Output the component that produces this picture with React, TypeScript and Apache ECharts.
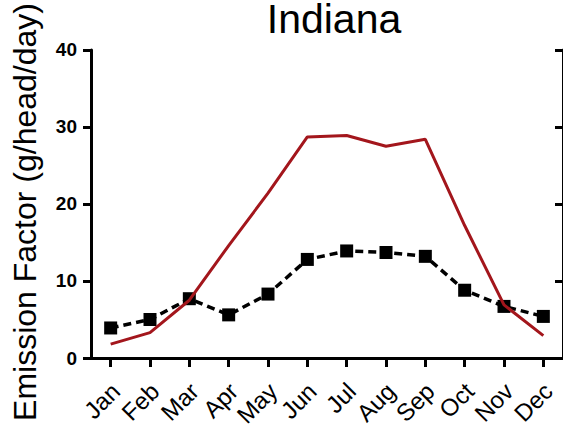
import React, { useEffect, useRef } from "react";
import * as echarts from "echarts";

const months = ["Jan", "Feb", "Mar", "Apr", "May", "Jun", "Jul", "Aug", "Sep", "Oct", "Nov", "Dec"];
const redSeries = [1.8, 3.3, 7.5, 14.6, 21.4, 28.7, 28.9, 27.5, 28.4, 17.2, 6.9, 2.9];
const blackSeries = [3.9, 5.0, 7.7, 5.6, 8.3, 12.8, 13.9, 13.7, 13.2, 8.8, 6.7, 5.4];
const yTicks = { min: 0, max: 40, interval: 10 };

const FONT = "'Liberation Sans', Arial, sans-serif";

export default function App() {
  const ref = useRef<HTMLDivElement>(null);
  useEffect(() => {
    if (!ref.current) return;
    const chart = echarts.init(ref.current, null, { renderer: "svg" });
    const axisLine = { show: true, lineStyle: { color: "#000", width: 3 } };
    chart.setOption({
      animation: false,
      backgroundColor: "#fff",
      title: {
        text: "Indiana",
        left: 329,
        textAlign: "center",
        top: -7,
        textStyle: { fontFamily: FONT, fontSize: 41, fontWeight: "normal", color: "#000" },
      },
      grid: { left: 91, right: -2, top: 42, bottom: 78, containLabel: false },
      xAxis: [
        {
          type: "category",
          data: months,
          position: "bottom",
          boundaryGap: true,
          axisLine,
          axisTick: { show: true, alignWithLabel: true, length: 8, lineStyle: { color: "#000", width: 3 } },
          axisLabel: {
            rotate: 45,
            margin: 34,
            interval: 0,
            fontFamily: FONT,
            fontSize: 24,
            color: "#000",
            padding: [0, -7, 0, 0],
          },
          splitLine: { show: false },
        },
        {
          type: "category",
          data: months,
          position: "top",
          boundaryGap: true,
          axisLine,
          axisTick: { show: true, inside: true, alignWithLabel: true, length: 9, lineStyle: { color: "#000", width: 3 } },
          axisLabel: { show: false },
          splitLine: { show: false },
        },
      ],
      yAxis: [
        {
          type: "value",
          min: yTicks.min,
          max: yTicks.max,
          interval: yTicks.interval,
          position: "left",
          axisLine,
          axisTick: { show: true, length: 8, lineStyle: { color: "#000", width: 3 } },
          axisLabel: { margin: 14, fontFamily: FONT, fontSize: 19, fontWeight: "bold", color: "#000" },
          splitLine: { show: false },
          name: "Emission Factor (g/head/day)",
          nameLocation: "middle",
          nameGap: 50,
          nameTextStyle: { fontFamily: FONT, fontSize: 32, color: "#000", padding: [0, 16, 0, 0] },
        },
        {
          type: "value",
          min: yTicks.min,
          max: yTicks.max,
          interval: yTicks.interval,
          position: "right",
          axisLine,
          axisTick: { show: true, inside: true, length: 8, lineStyle: { color: "#000", width: 3 } },
          axisLabel: { show: false },
          splitLine: { show: false },
        },
      ],
      series: [
        {
          name: "black",
          type: "line",
          data: blackSeries,
          xAxisIndex: 0,
          yAxisIndex: 0,
          symbol: "rect",
          symbolSize: 13,
          itemStyle: { color: "#000" },
          lineStyle: { color: "#000", width: 3.5, type: [8, 5] },
          z: 2,
        },
        {
          name: "red",
          type: "line",
          data: redSeries,
          xAxisIndex: 0,
          yAxisIndex: 0,
          symbol: "none",
          lineStyle: { color: "#a3161c", width: 3 },
          z: 3,
        },
      ],
    });
    return () => chart.dispose();
  }, []);
  return (
    <div
      ref={ref}
      style={{ position: "fixed", left: 0, top: 0, width: 563, height: 436, background: "#fff" }}
    />
  );
}
